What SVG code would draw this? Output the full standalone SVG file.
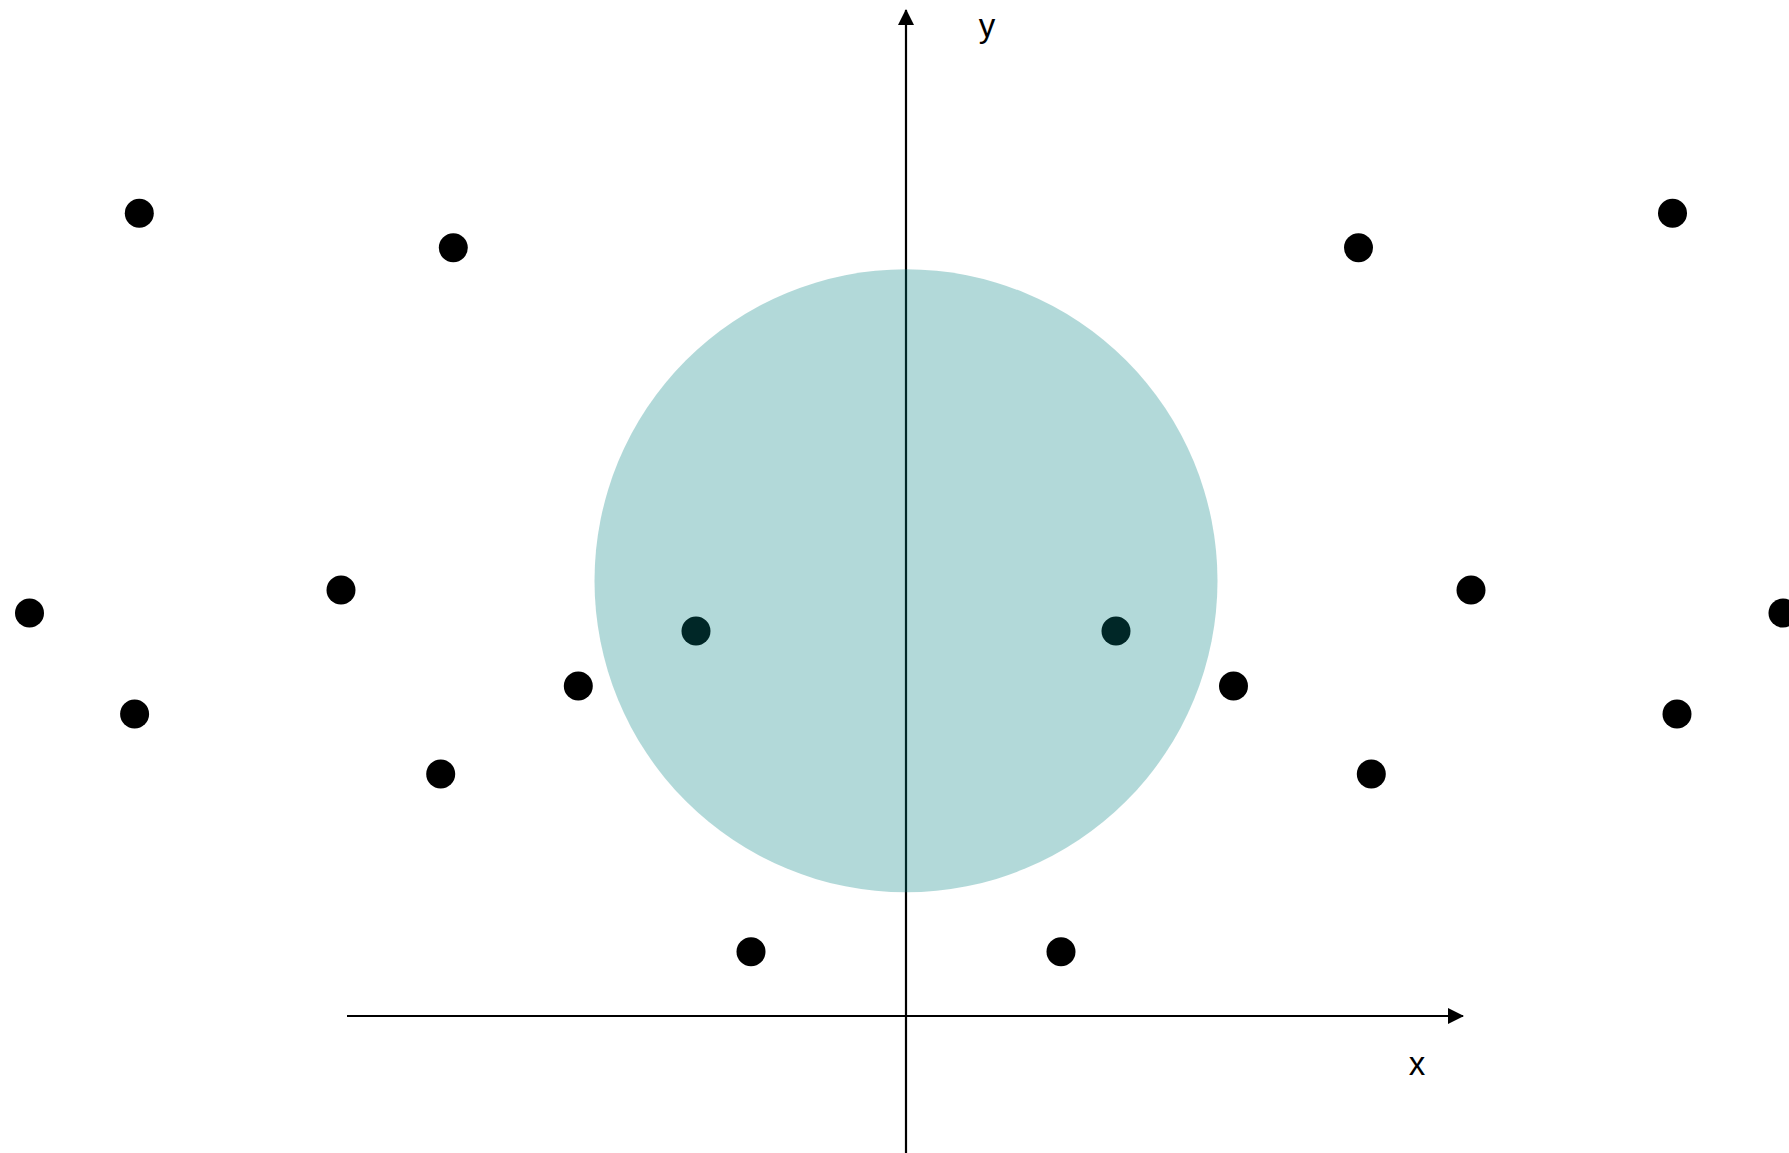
<svg xmlns="http://www.w3.org/2000/svg" width="1789" height="1153" viewBox="0 0 1789 1153">
<style>
.axis{stroke:#000;stroke-width:2.2;fill:none}
.dot{fill:#000}
.lbl{font-family:"Liberation Sans",Arial,sans-serif;font-size:33px;fill:#000;text-anchor:middle}
</style>
<defs>
<marker id="arr" viewBox="0 0 16 16" refX="15" refY="8" markerWidth="16" markerHeight="16" markerUnits="userSpaceOnUse" orient="auto">
<path d="M0,0 L16,8 L0,16 Z" fill="#000"/>
</marker>
</defs>
<rect width="1789" height="1153" fill="#fff"/>
<g id="connectors">
<line class="axis" x1="906" y1="1153" x2="906" y2="10" marker-end="url(#arr)"/>
<line class="axis" x1="347" y1="1016" x2="1463" y2="1016" marker-end="url(#arr)"/>
</g>
<g id="points">
<circle class="dot" cx="139.3" cy="213.3" r="14.5"/>
<circle class="dot" cx="453.3" cy="247.7" r="14.5"/>
<circle class="dot" cx="1358.5" cy="247.7" r="14.5"/>
<circle class="dot" cx="1672.5" cy="213.3" r="14.5"/>
<circle class="dot" cx="29.5" cy="613" r="14.5"/>
<circle class="dot" cx="341" cy="590" r="14.5"/>
<circle class="dot" cx="1471" cy="590" r="14.5"/>
<circle class="dot" cx="1783" cy="613" r="14.5"/>
<circle class="dot" cx="696" cy="631" r="14.5"/>
<circle class="dot" cx="1116" cy="631" r="14.5"/>
<circle class="dot" cx="578.3" cy="686" r="14.5"/>
<circle class="dot" cx="1233.5" cy="686" r="14.5"/>
<circle class="dot" cx="134.6" cy="714" r="14.5"/>
<circle class="dot" cx="1677" cy="714" r="14.5"/>
<circle class="dot" cx="440.7" cy="774" r="14.5"/>
<circle class="dot" cx="1371.3" cy="774" r="14.5"/>
<circle class="dot" cx="751" cy="951.7" r="14.5"/>
<circle class="dot" cx="1061" cy="951.7" r="14.5"/>
</g>
<g id="region">
<circle cx="906" cy="580.8" r="311.5" fill="#008080" fill-opacity="0.3"/>
</g>
<g id="labels">
<text class="lbl" x="987" y="37">y</text>
<text class="lbl" x="1417" y="1075">x</text>
</g>
</svg>
